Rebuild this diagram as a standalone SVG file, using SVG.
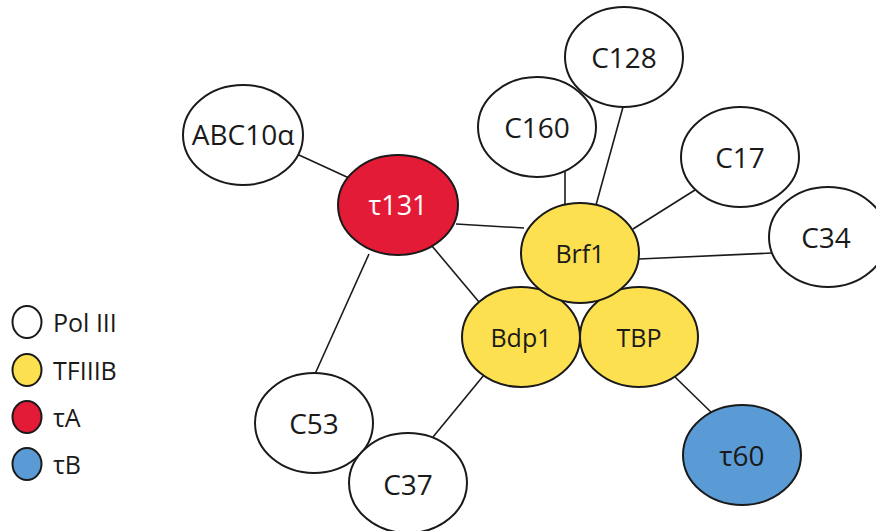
<svg xmlns="http://www.w3.org/2000/svg" width="876" height="531" viewBox="0 0 876 531">
<style>
.n{stroke:#1a1a1a;stroke-width:2}
.w{fill:#ffffff}
.y{fill:#fde04f}
.r{fill:#e31b37}
.b{fill:#5b9bd5}
.t{font-family:"Open Sans","Liberation Sans",sans-serif;fill:#1a1a1a;text-anchor:middle;dominant-baseline:central}
.big{font-size:28px}
.sm{font-size:25px}
.lg{font-family:"Open Sans","Liberation Sans",sans-serif;fill:#1a1a1a;font-size:25px;dominant-baseline:central}
.e{stroke:#1a1a1a;stroke-width:1.6;fill:none}
</style>
<rect width="876" height="531" fill="#ffffff"/>
<g id="connectors">
<line class="e" x1="299" y1="155" x2="349" y2="178"/>
<line class="e" x1="456" y1="224" x2="524" y2="228"/>
<line class="e" x1="432" y1="246" x2="479" y2="302"/>
<line class="e" x1="369" y1="254" x2="315" y2="374"/>
<line class="e" x1="565" y1="172" x2="565" y2="205"/>
<line class="e" x1="623" y1="107" x2="596" y2="205"/>
<line class="e" x1="695" y1="190" x2="633" y2="229"/>
<line class="e" x1="772" y1="253" x2="639" y2="259"/>
<line class="e" x1="484" y1="375" x2="433" y2="437"/>
<line class="e" x1="675" y1="377" x2="714" y2="415"/>
</g>
<g id="n-C128"><ellipse class="n w" cx="624" cy="57" rx="59" ry="50"/><text class="t big" x="624" y="57">C128</text></g>
<g id="n-C160"><ellipse class="n w" cx="537" cy="127" rx="59" ry="50"/><text class="t big" x="537" y="127">C160</text></g>
<g id="n-C17"><ellipse class="n w" cx="740" cy="157" rx="59" ry="50"/><text class="t big" x="740" y="157">C17</text></g>
<g id="n-C34"><ellipse class="n w" cx="828" cy="237" rx="59" ry="50"/><text class="t big" x="826" y="237">C34</text></g>
<g id="n-ABC10a"><ellipse class="n w" cx="243" cy="135" rx="60" ry="50"/><text class="t big" x="243" y="134">ABC10α</text></g>
<g id="n-t131"><ellipse class="n r" cx="398" cy="205" rx="60" ry="50"/><text class="t" x="398" y="204" style="fill:#ffffff;font-size:27px">τ131</text></g>
<g id="n-C53"><ellipse class="n w" cx="314" cy="423" rx="59" ry="50"/><text class="t big" x="314" y="423">C53</text></g>
<g id="n-C37"><ellipse class="n w" cx="408" cy="483" rx="59" ry="50"/><text class="t big" x="408" y="484">C37</text></g>
<g id="n-Bdp1"><ellipse class="n y" cx="521" cy="337" rx="59" ry="50"/><text class="t sm" x="521" y="337">Bdp1</text></g>
<g id="n-TBP"><ellipse class="n y" cx="639" cy="337" rx="59" ry="50"/><text class="t sm" x="639" y="337">TBP</text></g>
<g id="n-Brf1"><ellipse class="n y" cx="580" cy="253" rx="59" ry="50"/><text class="t sm" x="580" y="253">Brf1</text></g>
<g id="n-t60"><ellipse class="n b" cx="742" cy="455" rx="59" ry="50"/><text class="t big" x="742" y="455">τ60</text></g>
<g id="legend">
<ellipse class="n w" cx="27" cy="322" rx="14.5" ry="16"/><text class="lg" x="53" y="322">Pol III</text>
<ellipse class="n y" cx="27" cy="370" rx="14.5" ry="16"/><text class="lg" x="53" y="370">TFIIIB</text>
<ellipse class="n r" cx="27" cy="417" rx="14.5" ry="16"/><text class="lg" x="53" y="417">τA</text>
<ellipse class="n b" cx="27" cy="464" rx="14.5" ry="16"/><text class="lg" x="53" y="464">τB</text>
</g>
</svg>
